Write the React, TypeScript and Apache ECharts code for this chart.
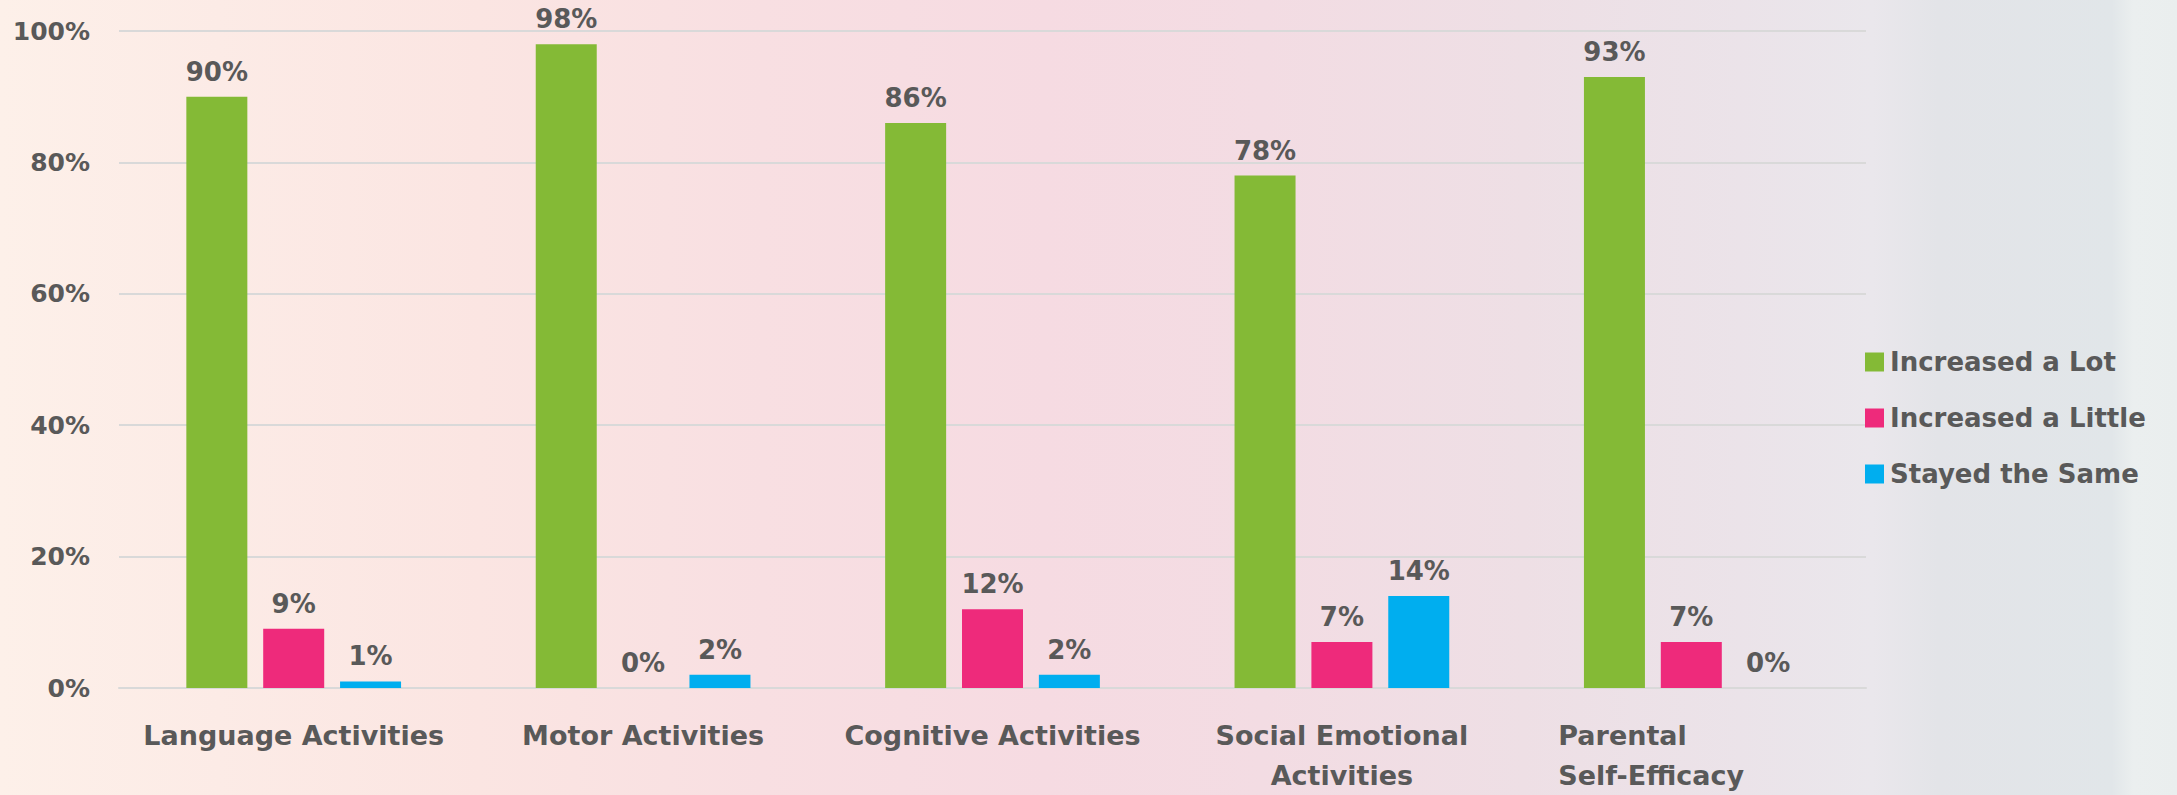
import React, { useEffect, useRef } from "react";
import * as echarts from "echarts";

const categories = [
  "Language Activities",
  "Motor Activities",
  "Cognitive Activities",
  "Social Emotional Activities",
  "Parental Self-Efficacy",
];
const seriesNames = ["Increased a Lot", "Increased a Little", "Stayed the Same"];
const increasedALot = [90, 98, 86, 78, 93];
const increasedALittle = [9, 0, 12, 7, 7];
const stayedTheSame = [1, 2, 2, 14, 0];
const colors = ["#84BA36", "#EE2A7B", "#00AEEF"];

const FONT = "DejaVu Sans";
const TEXT = "#595959";

export default function App() {
  const ref = useRef<HTMLDivElement>(null);
  useEffect(() => {
    if (!ref.current) return;
    const chart = echarts.init(ref.current, undefined, { renderer: "svg" });
    const values = [increasedALot, increasedALittle, stayedTheSame];
    chart.setOption({
      animation: false,
      backgroundColor: "transparent",
      grid: { left: 119, right: 311, top: 31, bottom: 103, containLabel: false },
      legend: {
        orient: "vertical",
        left: 1860,
        top: 344,
        itemWidth: 19,
        itemHeight: 19,
        itemGap: 30,
        selectedMode: false,
        icon: "rect",
        data: seriesNames,
        textStyle: {
          fontFamily: FONT,
          fontWeight: "bold",
          fontSize: 26,
          color: TEXT,
          padding: [0, 0, 0, 1],
        },
      },
      xAxis: {
        type: "category",
        data: categories,
        axisTick: { show: false },
        axisLine: { lineStyle: { color: "#d9d9d9", width: 2 } },
        axisLabel: {
          interval: 0,
          margin: 27,
          fontFamily: FONT,
          fontWeight: "bold",
          fontSize: 27,
          color: TEXT,
          lineHeight: 40,
          formatter: (v: string) => {
            if (v === "Social Emotional Activities")
              return "Social Emotional\nActivities";
            if (v === "Parental Self-Efficacy")
              return "{p|Parental}\n{p|Self-Efficacy}";
            return v;
          },
          rich: {
            p: {
              fontFamily: FONT,
              fontWeight: "bold",
              fontSize: 27,
              color: TEXT,
              lineHeight: 40,
              width: 266,
              align: "left",
            },
          },
        },
      },
      yAxis: {
        type: "value",
        min: 0,
        max: 100,
        interval: 20,
        axisLine: { show: false },
        axisTick: { show: false },
        splitLine: { lineStyle: { color: "#d9d9d9", width: 2 } },
        axisLabel: {
          margin: 29,
          fontFamily: FONT,
          fontWeight: "bold",
          fontSize: 25,
          color: TEXT,
          formatter: "{value}%",
        },
      },
      series: seriesNames.map((name, i) => ({
        name,
        type: "bar",
        data: values[i],
        barWidth: 61,
        barGap: "26%",
        itemStyle: { color: colors[i] },
        label: {
          show: true,
          position: "top",
          distance: 12,
          formatter: "{c}%",
          fontFamily: FONT,
          fontWeight: "bold",
          fontSize: 26,
          color: TEXT,
        },
      })),
    });
    return () => chart.dispose();
  }, []);
  return (
    <div
      style={{
        position: "fixed",
        left: 0,
        top: 0,
        width: 2177,
        height: 795,
        background:
          "linear-gradient(90deg, #fdf0e9 0%, #fcebe6 10%, #fbe5e2 22%, #f8dfe2 35%, #f6dbe2 48%, #f3dce3 58%, #eedfe5 70%, #ebe3e9 80%, #eae7ec 86%, #e3e4e8 89%, #e1e6e9 97%, #ebefef 98%, #eaeeee 100%)",
      }}
    >
      <div ref={ref} style={{ width: 2177, height: 795 }} />
    </div>
  );
}
